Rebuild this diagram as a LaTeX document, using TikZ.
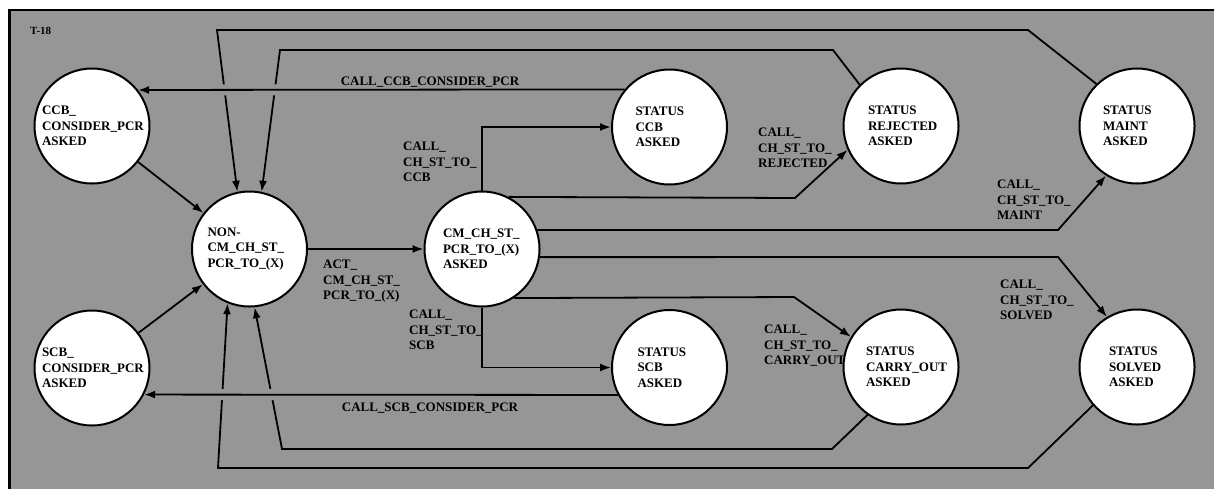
\documentclass[tikz,border=0pt]{standalone}
\usepackage{fontspec}
\setmainfont{Liberation Serif}
\usepackage{tikz}
\usetikzlibrary{arrows.meta}

\definecolor{bggray}{RGB}{150,150,150}
\newcommand{\txtfont}{\bfseries\fontsize{13}{15.5}\selectfont}

\begin{document}
\begin{tikzpicture}[x=1pt, y=-1pt, >={Latex[length=11pt,width=8pt]},
  statnode/.style={circle, draw, line width=2pt, fill=white, minimum size=115pt,
    inner sep=0pt, align=left, text width=#1, font=\txtfont},
  statnode/.default=70pt,
  lbl/.style={inner sep=0pt, align=left, font=\txtfont},
  conn/.style={line width=1.8pt},
  halo/.style={preaction={draw=bggray, line width=11pt, -, shorten <=40pt, shorten >=40pt}}]
  % Rahmen
  \clip (0,0) rectangle (1214,488);
  \draw[line width=2.6pt, fill=bggray] (9.5,10) rectangle (1240,510);
  \node[lbl, anchor=north west, font=\bfseries\fontsize{11}{13}\selectfont] (t18) at (30,27) {T-18};
  % Zustaende
  \node[statnode=100pt] (ccbc) at (92,126) {CCB\_\\CONSIDER\_PCR\\ASKED};
  \node[statnode=100pt] (scbc) at (92,368) {SCB\_\\CONSIDER\_PCR\\ASKED};
  \node[statnode=84pt] (noncm) at (249.5,249) {NON-\\CM\_CH\_ST\_\\PCR\_TO\_(X)};
  \node[statnode=78pt] (cm) at (482,249) {CM\_CH\_ST\_\\PCR\_TO\_(X)\\ASKED};
  \node[statnode=68pt] (sccb) at (669.5,127) {STATUS\\CCB\\ASKED};
  \node[statnode=64pt] (sscb) at (669.5,367.5) {STATUS\\SCB\\ASKED};
  \node[statnode=66pt] (rej) at (901,126) {STATUS\\REJECTED\\ASKED};
  \node[statnode=68pt] (maint) at (1137,126) {STATUS\\MAINT\\ASKED};
  \node[statnode=70pt] (co) at (901,367) {STATUS\\CARRY\_OUT\\ASKED};
  \node[statnode=56pt] (solved) at (1137,367) {STATUS\\SOLVED\\ASKED};
  % Uebergaenge zu NON-CM und CM
  \draw[->, conn] (ccbc) -- (noncm);
  \draw[->, conn] (scbc) -- (noncm);
  \draw[->, conn] (noncm) -- (cm);
  % von CM zu den Status-Knoten
  \draw[->, conn] (cm.north) |- (sccb.west);
  \draw[->, conn] (cm.south) |- (sscb.west);
  \draw[->, conn] (cm.63) -- (795,198) -- (rej.204);
  \draw[->, conn] (cm.19) -- (1058,230) -- (maint.238);
  \draw[->, conn] (cm.352) -- (1058,257) -- (solved.121);
  \draw[->, conn] (cm.303) -- (794,297) -- (co.149);
  % Rueckwege zu NON-CM
  \draw[->, conn] (maint.134) -- (1028,30) -- (217,30) -- (noncm.102);
  \draw[->, conn] (rej.135) -- (833,50) -- (280,50) -- (noncm.78);
  \draw[->, conn] (solved.221) -- (1028,468) -- (218,468) -- (noncm.248);
  \draw[->, conn] (co.235) -- (832,449) -- (282,449) -- (noncm.275);
  \draw[->, conn, halo] (sccb.140) -- (ccbc.38);
  \draw[->, conn, halo] (sscb.208) -- (scbc.333);
  % Beschriftungen
  \node[lbl, anchor=north] (lccb) at (430,77) {CALL\_CCB\_CONSIDER\_PCR};
  \node[lbl, anchor=north] (lscb) at (430,403) {CALL\_SCB\_CONSIDER\_PCR};
  \node[lbl, anchor=north west] (lact) at (323,260) {ACT\_\\CM\_CH\_ST\_\\PCR\_TO\_(X)};
  \node[lbl, anchor=north west] (ltoccb) at (403,142) {CALL\_\\CH\_ST\_TO\_\\CCB};
  \node[lbl, anchor=north west] (ltoscb) at (409,310) {CALL\_\\CH\_ST\_TO\_\\SCB};
  \node[lbl, anchor=north west] (ltorej) at (758,128) {CALL\_\\CH\_ST\_TO\_\\REJECTED};
  \node[lbl, anchor=north west] (ltomaint) at (997,180) {CALL\_\\CH\_ST\_TO\_\\MAINT};
  \node[lbl, anchor=north west] (ltosolved) at (1000,280) {CALL\_\\CH\_ST\_TO\_\\SOLVED};
  \node[lbl, anchor=north west] (ltoco) at (764,325) {CALL\_\\CH\_ST\_TO\_\\CARRY\_OUT};
\end{tikzpicture}
\end{document}
